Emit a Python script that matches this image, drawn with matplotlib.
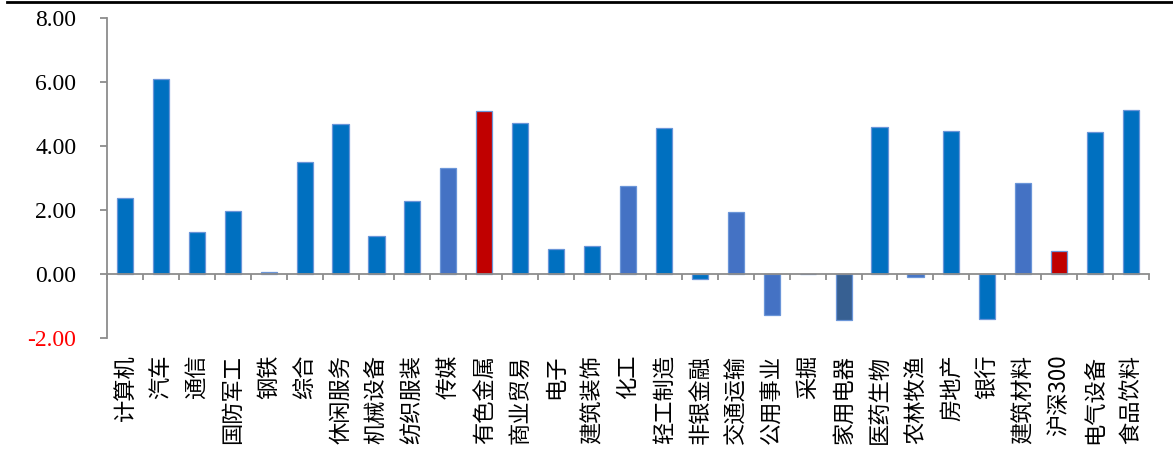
import matplotlib
matplotlib.use("Agg")
import matplotlib.pyplot as plt
from matplotlib.lines import Line2D
import numpy as np

# Sector weekly returns (%)
sectors = ["计算机", "汽车", "通信", "国防军工", "钢铁", "综合", "休闲服务", "机械设备",
           "纺织服装", "传媒", "有色金属", "商业贸易", "电子", "建筑装饰", "化工", "轻工制造",
           "非银金融", "交通运输", "公用事业", "采掘", "家用电器", "医药生物", "农林牧渔",
           "房地产", "银行", "建筑材料", "沪深300", "电气设备", "食品饮料"]
returns = [2.38, 6.09, 1.31, 1.97, 0.07, 3.50, 4.69, 1.18,
           2.27, 3.30, 5.09, 4.72, 0.78, 0.88, 2.75, 4.57,
           -0.15, 1.94, -1.28, 0.00, -1.43, 4.60, -0.08,
           4.47, -1.41, 2.85, 0.72, 4.44, 5.13]
# colour group per bar: 0 = main blue, 1 = light blue, 2 = dark slate, 3 = red highlight
color_group = [0, 0, 0, 0, 1, 0, 0, 0,
               0, 1, 3, 0, 0, 0, 1, 0,
               0, 1, 1, 0, 2, 0, 1,
               0, 0, 1, 3, 0, 0]
palette = ["#0070C0", "#4472C4", "#376092", "#C00000"]

y_ticks = [-2, 0, 2, 4, 6, 8]

W, H = 1173, 461
fig = plt.figure(figsize=(W / 100, H / 100), dpi=100)
ax = fig.add_axes([107 / W, 1 - 338 / H, (1149 - 107) / W, (338 - 18) / H])

x = np.arange(len(sectors))
colors = [palette[g] for g in color_group]
ax.bar(x, returns, width=0.45, color=colors, edgecolor="#6A95D8", linewidth=0.9, zorder=3)

ax.set_xlim(-0.5, len(sectors) - 0.5)
ax.set_ylim(-2, 8)

axis_gray = "#8C8C8C"
for side in ("top", "right"):
    ax.spines[side].set_visible(False)
ax.spines["left"].set_color(axis_gray)
ax.spines["left"].set_linewidth(1.3)
ax.spines["bottom"].set_position(("data", 0))
ax.spines["bottom"].set_color(axis_gray)
ax.spines["bottom"].set_linewidth(1.3)
ax.spines["bottom"].set_zorder(4)

# y axis
ax.set_yticks(y_ticks)
ax.set_yticklabels([f"{v:.2f}" for v in y_ticks], fontfamily="Liberation Serif", fontsize=17)
ax.tick_params(axis="y", direction="out", length=5, width=1.3, color=axis_gray, pad=17)
for lab, v in zip(ax.get_yticklabels(), y_ticks):
    lab.set_color("#FF0000" if v < 0 else "black")

# x axis: category labels at centres, tick marks at boundaries
ax.set_xticks(x)
ax.set_xticklabels(sectors, rotation=90, va="top", ha="center",
                   fontfamily=["Noto Sans CJK SC", "DejaVu Sans"], fontsize=16)
ax.tick_params(axis="x", which="major", length=0, pad=58)
ax.set_xticks(np.arange(len(sectors) + 1) - 0.5, minor=True)
ax.tick_params(axis="x", which="minor", direction="out", length=4, width=1.3, color=axis_gray)

# rule across the top of the figure
fig.add_artist(Line2D([7 / W, 1.0], [1 - 2.5 / H, 1 - 2.5 / H], color="black", linewidth=2.0))

fig.savefig("out.png", dpi=100)
